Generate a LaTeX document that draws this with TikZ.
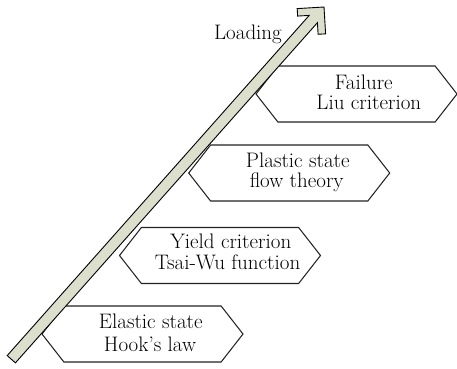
\documentclass[tikz,border=0pt]{standalone}
\usetikzlibrary{shapes.symbols}
\definecolor{arrowfill}{RGB}{220,223,204}
\definecolor{boxline}{RGB}{35,35,35}
\begin{document}
\begin{tikzpicture}[x=1pt,y=-1pt,
  stage/.style={shape=signal, signal to=east and west, signal pointer angle=104,
    draw=boxline, line width=1.05pt, minimum width=201pt, minimum height=56pt,
    inner sep=0pt, fill=white},
  lbl/.style={font=\fontsize{21}{22}\selectfont, anchor=base, inner sep=0pt}]
\useasboundingbox (0,0) rectangle (457,368);
% stages
\node[stage] (s1) at (356.5,94) {};
\node[stage] (s2) at (289.2,173) {};
\node[stage] (s3) at (220,255.5) {};
\node[stage] (s4) at (142.5,334) {};
% loading arrow
\draw[fill=arrowfill, draw=black, line width=0.9pt, line join=miter]
  (7.19,355.55) -- (309.2,15.39) -- (297.63,16.07) -- (297.18,8.6) -- (324,7)
  -- (325.6,33.82) -- (318.11,34.27) -- (317.42,22.69) -- (15.41,362.85) -- cycle;
% labels
\node[lbl] (load) at (248,39.3) {Loading};
\node[lbl] (t1a) at (363.8,89) {Failure};
\node[lbl] (t1b) at (368.8,109.3) {Liu criterion};
\node[lbl] (t2a) at (297.8,167.3) {Plastic state};
\node[lbl] (t2b) at (296.7,187.3) {flow theory};
\node[lbl] (t3a) at (230.8,248.7) {Yield criterion};
\node[lbl] (t3b) at (227.5,269.7) {Tsai-Wu function};
\node[lbl] (t4a) at (150.8,328.3) {Elastic state};
\node[lbl] (t4b) at (150,351.7) {Hook's law};
\end{tikzpicture}
\end{document}
